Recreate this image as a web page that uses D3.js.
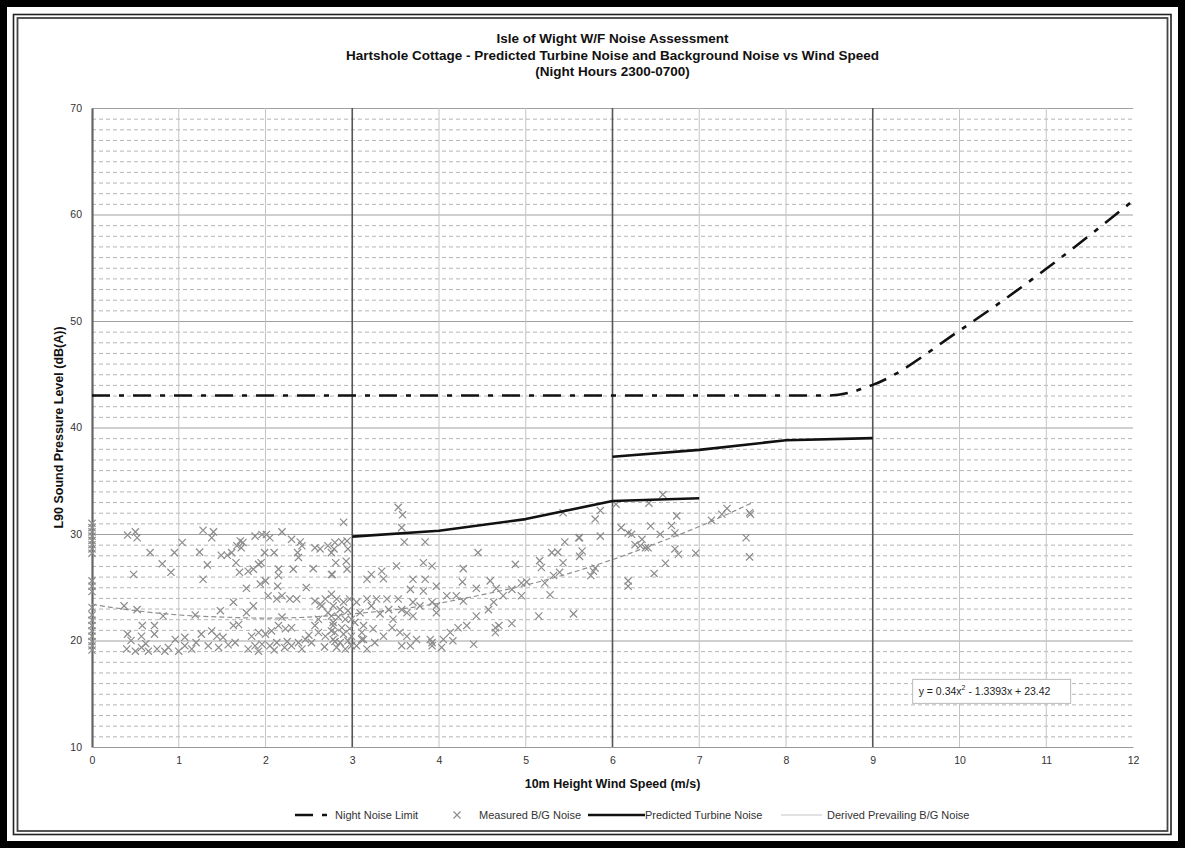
<!DOCTYPE html>
<html><head><meta charset="utf-8">
<script src="https://cdn.jsdelivr.net/npm/d3@7"></script>
<style>
html,body{margin:0;padding:0;background:#fff;}
svg{display:block;font-family:"Liberation Sans",Arial,sans-serif;}
</style></head>
<body>
<svg id="c" width="1185" height="848"></svg>
<script>
// ---------- data ----------
const titleLines = ["Isle of Wight W/F Noise Assessment",
  "Hartshole Cottage - Predicted Turbine Noise and Background Noise vs Wind Speed",
  "(Night Hours 2300-0700)"];
const xTicks = [0,1,2,3,4,5,6,7,8,9,10,11,12];
const yTicks = [10,20,30,40,50,60,70];
const yMinor = d3.range(11,70);
const strongVerticals = [3,6,9];

const limitX = [0,1,2,3,4,5,6,7,8,8.5,9,10,11,12];
const limitY = [43,43,43,43,43,43,43,43,43,43,44.0,49.1,54.9,61.3];

const turbineAX = [3,4,5,6,7];
const turbineAY = [29.75,30.3,31.4,33.1,33.35];
const turbineBX = [6,7,8,9];
const turbineBY = [37.25,37.9,38.8,39.0];

const derivedX = [0,0.5,1,1.5,2,2.5,3,3.5,4,4.5,5,5.5,6,6.5,7,7.6];
const derivedY = [23.4,22.8,22.4,22.2,22.1,22.2,22.5,22.9,23.5,24.3,25.2,26.3,27.6,29.1,30.7,32.9];

const measuredX = [
0,0,0,0,0,0,0,0,0,0,0,0,0,0,0,0,0,0,0,0,
0.41,0.50,0.52,0.48,0.67,0.81,0.91,0.95,1.04,1.28,1.40,1.38,1.24,1.33,1.28,1.49,1.56,1.61,1.67,1.71,
1.74,1.72,1.66,1.70,1.80,1.86,1.92,1.95,1.88,1.96,2.01,2.05,1.99,2.10,2.19,2.30,2.40,2.42,2.37,2.38,
2.15,2.15,2.14,2.32,2.55,2.47,2.57,2.63,2.72,2.76,2.76,1.78,1.94,2.00,2.03,2.13,2.19,2.28,2.36,1.63,
1.86,1.78,2.57,2.63,2.69,0.37,0.52,0.82,1.19,1.48,0.58,0.72,0.41,0.57,0.72,0.40,0.50,0.57,0.65,0.75,
0.84,0.88,0.96,1.07,1.07,1.15,1.26,1.38,1.44,1.34,1.46,1.57,1.63,1.69,1.51,1.65,1.84,1.92,2.00,2.07,
2.15,2.23,2.30,1.88,1.96,2.05,2.13,2.22,2.30,2.38,2.46,2.53,2.61,2.69,2.76,2.61,2.72,2.65,2.57,2.78,
2.19,1.80,1.92,2.10,2.25,2.42,2.50,2.68,2.80,1.20,1.00,0.45,0.62,
2.90,3.53,3.58,3.57,3.60,3.84,2.80,2.88,2.94,2.79,2.95,2.81,2.93,2.94,2.77,3.17,3.22,3.34,3.36,3.51,
3.70,3.84,3.82,3.92,3.67,3.82,3.97,4.28,4.27,4.45,4.43,4.59,4.66,4.74,4.84,4.95,5.01,4.95,4.88,5.16,
5.18,5.22,5.28,5.30,5.37,5.43,5.45,5.61,5.43,5.32,5.39,5.15,5.55,4.84,4.43,4.57,4.63,4.65,4.69,4.65,
4.40,4.32,4.22,4.13,4.16,4.05,3.92,4.03,3.90,4.09,4.20,4.28,3.97,3.92,3.97,3.70,3.78,3.63,3.70,3.53,
3.57,3.40,3.28,3.17,3.22,3.32,3.42,3.47,3.46,3.55,3.63,3.74,3.57,3.67,3.92,3.13,3.24,3.36,3.13,3.26,
3.17,2.76,2.82,2.90,2.97,2.78,2.86,2.95,2.76,2.84,2.92,2.99,2.78,2.88,2.97,2.80,2.90,2.99,2.78,2.86,
2.95,2.82,2.92,2.99,3.05,3.09,3.03,3.11,3.05,3.11,
5.80,5.86,5.62,5.86,5.65,5.62,5.80,5.78,5.75,6.04,6.10,6.18,6.22,6.26,6.34,6.32,6.38,6.41,6.18,6.18,
6.42,6.44,6.58,6.55,6.74,6.68,6.72,6.72,6.76,6.61,6.48,6.96,7.14,7.26,7.32,7.58,7.59,7.54,7.58];
const measuredY = [
31.0,30.6,30.2,29.8,29.4,29.0,28.6,28.2,25.6,25.1,24.6,23.1,22.4,21.9,21.4,20.9,20.4,19.9,19.5,19.1,
29.9,30.2,29.65,26.2,28.25,27.2,26.4,28.25,29.2,30.35,30.2,29.65,28.3,27.1,25.75,28.0,28.0,28.25,28.9,29.35,
29.2,28.7,27.3,26.4,26.5,26.7,27.15,27.3,29.8,29.95,29.95,29.65,28.25,28.25,30.2,29.5,29.25,28.9,28.25,27.8,
26.7,26.1,25.1,26.7,26.75,24.97,28.7,28.6,28.9,28.25,26.2,24.9,25.3,25.6,24.2,23.9,24.2,23.9,23.9,23.6,
23.25,22.6,23.7,23.4,23.9,23.25,22.9,22.3,22.4,22.8,21.4,21.4,20.6,20.4,20.6,19.2,19.0,19.35,19.0,19.2,
19.0,19.35,20.1,20.3,19.5,19.2,20.6,20.9,20.4,19.5,19.35,19.6,21.4,21.5,20.3,19.8,20.4,20.75,20.6,20.9,
21.4,21.1,21.2,19.5,19.65,19.5,19.8,19.35,19.5,19.8,20.1,19.8,20.75,20.4,20.9,22.0,22.6,23.25,21.4,21.7,
22.2,19.2,19.0,19.1,19.9,19.2,20.5,19.4,19.9,19.8,19.0,20.0,19.7,
31.1,32.5,31.8,30.6,29.25,29.25,29.2,29.25,29.35,28.6,28.6,27.3,27.45,26.7,26.2,25.75,26.2,26.5,25.8,27.0,
25.75,25.75,27.3,27.0,24.8,24.65,25.1,26.75,25.5,28.25,24.9,25.6,24.9,24.2,24.8,25.4,25.5,24.2,27.15,27.5,
26.85,25.4,24.3,28.25,28.3,27.3,29.25,29.65,32.0,26.1,26.4,22.3,22.5,21.6,22.3,22.9,23.6,21.2,21.4,20.75,
19.65,21.4,21.2,20.75,19.97,20.1,19.5,19.35,20.1,24.2,24.2,23.7,23.25,23.6,22.6,23.6,23.25,22.6,22.3,23.9,
22.9,23.9,23.9,23.9,23.25,22.5,22.9,22.0,21.2,20.75,20.4,20.1,19.5,19.5,19.8,21.4,21.1,20.4,20.1,19.8,
19.2,24.35,23.9,23.6,23.9,23.25,22.9,22.8,22.3,22.2,22.0,22.0,21.4,21.2,21.1,20.75,20.6,20.4,20.1,19.8,
19.97,19.35,19.2,19.5,23.6,22.6,21.7,20.75,19.5,20.1,
31.4,32.2,29.66,29.8,28.4,27.9,26.8,26.5,26.1,32.8,30.6,30.1,29.97,29.0,29.5,28.9,28.7,28.7,25.6,25.1,
32.9,30.75,33.7,29.97,31.7,30.8,30.1,28.6,28.1,27.25,26.3,28.2,31.3,31.85,32.4,32.0,31.85,29.65,27.85];

const legendLabels = ["Night Noise Limit","Measured B/G Noise","Predicted Turbine Noise","Derived Prevailing B/G Noise"];
const equationText = ["y = 0.34x", "2", " - 1.3393x + 23.42"];

// ---------- drawing ----------
const svg = d3.select("#c");
const W = 1185, H = 848;
const x = d3.scaleLinear().domain([0,12]).range([92,1133]);
const y = d3.scaleLinear().domain([10,70]).range([747,108]);

// frame
svg.append("rect").attr("x",0).attr("y",0).attr("width",W).attr("height",H).attr("fill","#fff");
svg.append("rect").attr("x",3.5).attr("y",3.5).attr("width",W-7).attr("height",H-7)
  .attr("fill","none").attr("stroke","#000").attr("stroke-width",7);
svg.append("rect").attr("x",13.5).attr("y",14.5).attr("width",W-27.5).attr("height",H-28)
  .attr("fill","none").attr("stroke","#222").attr("stroke-width",1.6);
svg.append("rect").attr("x",17.5).attr("y",18).attr("width",W-35).attr("height",H-35)
  .attr("fill","none").attr("stroke","#444").attr("stroke-width",1.8);

// title
const title = svg.append("g").attr("font-weight","bold").attr("font-size",13.5).attr("fill","#111").attr("text-anchor","middle");
titleLines.forEach((t,i)=>title.append("text").attr("x",(x(0)+x(12))/2).attr("y",43+i*16.5).text(t));

// minor horizontal grid
const g = svg.append("g");
g.selectAll(".hmin").data(yMinor.filter(v=>v%10!==0)).enter().append("line")
  .attr("x1",x(0)).attr("x2",x(12)).attr("y1",d=>y(d)+0.5).attr("y2",d=>y(d)+0.5)
  .attr("stroke","#b4b4b4").attr("stroke-width",1).attr("stroke-dasharray","4,3");
// major horizontal grid
g.selectAll(".hmaj").data(yTicks.filter(v=>v>10)).enter().append("line")
  .attr("x1",x(0)).attr("x2",x(12)).attr("y1",d=>y(d)+0.5).attr("y2",d=>y(d)+0.5)
  .attr("stroke","#a0a0a0").attr("stroke-width",1);
// vertical grid
g.selectAll(".vg").data(xTicks.filter(v=>v>0 && v<12)).enter().append("line")
  .attr("x1",d=>x(d)).attr("x2",d=>x(d)).attr("y1",y(70)).attr("y2",y(10))
  .attr("stroke",d=>strongVerticals.includes(d)?"#555":"#c4c4c4")
  .attr("stroke-width",d=>strongVerticals.includes(d)?1.6:1);

// axes
const yAxis = d3.axisLeft(y).tickValues(yTicks).tickSize(0).tickPadding(10);
const ya = svg.append("g").attr("transform",`translate(${x(0)},0)`).call(yAxis);
ya.select(".domain").attr("stroke","#666").attr("stroke-width",2.2);
ya.selectAll("text").attr("font-size",10.5).attr("fill","#333").attr("font-family","Liberation Sans, Arial");
const xAxis = d3.axisBottom(x).tickValues(xTicks).tickSize(0).tickPadding(10);
const xa = svg.append("g").attr("transform",`translate(0,${y(10)})`).call(xAxis);
xa.select(".domain").attr("stroke","#999").attr("stroke-width",1.2);
xa.selectAll("text").attr("font-size",10.5).attr("fill","#333").attr("font-family","Liberation Sans, Arial");

// axis titles
svg.append("text").attr("transform",`translate(63,${(y(10)+y(70))/2}) rotate(-90)`)
  .attr("text-anchor","middle").attr("font-weight","bold").attr("font-size",12.5).attr("fill","#111")
  .text("L90 Sound Pressure Level (dB(A))");
svg.append("text").attr("x",(x(0)+x(12))/2).attr("y",788).attr("text-anchor","middle")
  .attr("font-weight","bold").attr("font-size",12.5).attr("fill","#111").text("10m Height Wind Speed (m/s)");

// measured scatter
const pts = measuredX.map((v,i)=>[v,measuredY[i]]);
const s = 3.6;
const mk = svg.append("g").attr("stroke","#8c8c8c").attr("stroke-width",1.2).attr("fill","none");
mk.selectAll("path").data(pts).enter().append("path")
  .attr("d",d=>{const cx=x(d[0]),cy=y(d[1]);return `M${cx-s},${cy-s}L${cx+s},${cy+s}M${cx-s},${cy+s}L${cx+s},${cy-s}`;});

// derived line
const smooth = d3.line().x(d=>x(d[0])).y(d=>y(d[1])).curve(d3.curveMonotoneX);
const straight = d3.line().x(d=>x(d[0])).y(d=>y(d[1]));
svg.append("path").datum(derivedX.map((v,i)=>[v,derivedY[i]]))
  .attr("d",smooth).attr("fill","none")
  .attr("stroke","#8f8f8f").attr("stroke-width",1.2).attr("stroke-dasharray","5,3");

// turbine lines
[[turbineAX,turbineAY],[turbineBX,turbineBY]].forEach(([xs,ys])=>{
  svg.append("path").datum(xs.map((v,i)=>[v,ys[i]]))
    .attr("d",straight).attr("fill","none")
    .attr("stroke","#111").attr("stroke-width",2.6).attr("stroke-linejoin","round");
});

// night limit
svg.append("path").datum(limitX.map((v,i)=>[v,limitY[i]]))
  .attr("d",smooth).attr("fill","none")
  .attr("stroke","#111").attr("stroke-width",2.6).attr("stroke-dasharray","18,9,5,9");

// equation box
const eb = svg.append("g").attr("transform",`translate(${x(9.46)},${y(16.35)})`);
eb.append("rect").attr("width",158).attr("height",24).attr("fill","#fff").attr("stroke","#bbb").attr("stroke-width",1);
const et = eb.append("text").attr("x",6).attr("y",16).attr("font-size",10.5).attr("fill","#222");
et.append("tspan").text(equationText[0]);
et.append("tspan").attr("dy",-5).attr("font-size",7).text(equationText[1]);
et.append("tspan").attr("dy",5).text(equationText[2]);

// legend
const lg = svg.append("g").attr("font-size",11).attr("fill","#333");
const ly = 815;
lg.append("line").attr("x1",295).attr("x2",333).attr("y1",ly).attr("y2",ly)
  .attr("stroke","#111").attr("stroke-width",2.6).attr("stroke-dasharray","18,9,5,9");
lg.append("text").attr("x",335).attr("y",ly+4).text(legendLabels[0]);
lg.append("path").attr("d",`M${457-3.5},${ly-3.5}L${457+3.5},${ly+3.5}M${457-3.5},${ly+3.5}L${457+3.5},${ly-3.5}`)
  .attr("stroke","#8c8c8c").attr("stroke-width",1.1);
lg.append("text").attr("x",479).attr("y",ly+4).text(legendLabels[1]);
lg.append("line").attr("x1",588).attr("x2",645).attr("y1",ly).attr("y2",ly).attr("stroke","#111").attr("stroke-width",2.4);
lg.append("text").attr("x",645).attr("y",ly+4).text(legendLabels[2]);
lg.append("line").attr("x1",781).attr("x2",822).attr("y1",ly).attr("y2",ly).attr("stroke","#c4c4c4").attr("stroke-width",1);
lg.append("text").attr("x",827).attr("y",ly+4).text(legendLabels[3]);
</script>
</body></html>
